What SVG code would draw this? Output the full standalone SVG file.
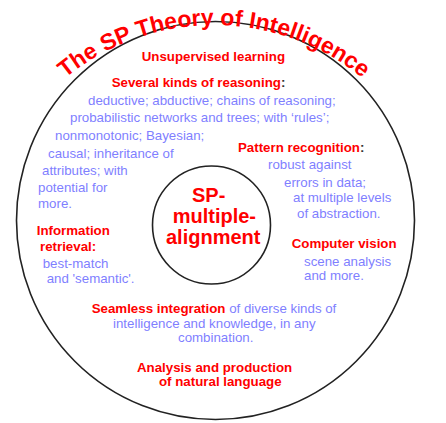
<svg xmlns="http://www.w3.org/2000/svg" width="446" height="423" viewBox="0 0 446 423">
<style>
text{font-family:"Liberation Sans",Arial,sans-serif;font-size:13.3px}
.r{fill:#ff0000;font-weight:bold}
.b{fill:#7f7fff}
.g{fill:#333333;font-weight:bold}
.title{fill:#ff0000;font-weight:bold;font-size:23px}
.core{fill:#ff0000;font-weight:bold;font-size:20px}
.ring{fill:none;stroke:#222222;stroke-width:1.6}
</style>
<defs>
<path id="arc" d="M -21 260 A 235 235 0 0 1 449 260"/>
</defs>
<rect width="446" height="423" fill="#ffffff"/>
<g id="outer">
<circle class="ring" cx="215.5" cy="220.5" r="199"/>
</g>
<g id="title">
<text class="title"><textPath href="#arc" startOffset="50%" text-anchor="middle">The SP Theory of Intelligence</textPath></text>
</g>
<g id="learning">
<text class="r" x="141.7" y="60.7">Unsupervised learning</text>
</g>
<g id="reasoning">
<text class="r" x="111.7" y="86.7">Several kinds of reasoning<tspan class="g">:</tspan></text>
<text class="b" x="88" y="105">deductive; abductive; chains of reasoning;</text>
<text class="b" x="70" y="122">probabilistic networks and trees; with ‘rules’;</text>
<text class="b" x="55" y="140">nonmonotonic; Bayesian;</text>
<text class="b" x="48" y="158">causal; inheritance of</text>
<text class="b" x="42" y="175">attributes; with</text>
<text class="b" x="38" y="192">potential for</text>
<text class="b" x="38" y="208">more.</text>
</g>
<g id="pattern">
<text class="r" x="238" y="152">Pattern recognition<tspan class="g">:</tspan></text>
<text class="b" x="268" y="169">robust against</text>
<text class="b" x="284" y="186.5">errors in data;</text>
<text class="b" x="293" y="202">at multiple levels</text>
<text class="b" x="297" y="217.5">of abstraction.</text>
</g>
<g id="core">
<circle class="ring" cx="211.5" cy="225" r="59"/>
<text class="core" x="192" y="202">SP-</text>
<text class="core" x="172.7" y="223">multiple-</text>
<text class="core" x="166" y="244">alignment</text>
</g>
<g id="retrieval">
<text class="r" x="36.7" y="235">Information</text>
<text class="r" x="40" y="251">retrieval:</text>
<text class="b" x="42.7" y="267.7">best-match</text>
<text class="b" x="46.7" y="283.3">and 'semantic'.</text>
</g>
<g id="vision">
<text class="r" x="291.7" y="248.3">Computer vision</text>
<text class="b" x="304" y="266">scene analysis</text>
<text class="b" x="304" y="280">and more.</text>
</g>
<g id="integration">
<text x="91.7" y="313"><tspan class="r">Seamless integration</tspan><tspan class="b"> of diverse kinds of</tspan></text>
<text class="b" x="113" y="327.5">intelligence and knowledge, in any</text>
<text class="b" x="178" y="341.7">combination.</text>
</g>
<g id="language">
<text class="r" x="137" y="371.7">Analysis and production</text>
<text class="r" x="159" y="386">of natural language</text>
</g>
<g id="connectors"/>
</svg>
